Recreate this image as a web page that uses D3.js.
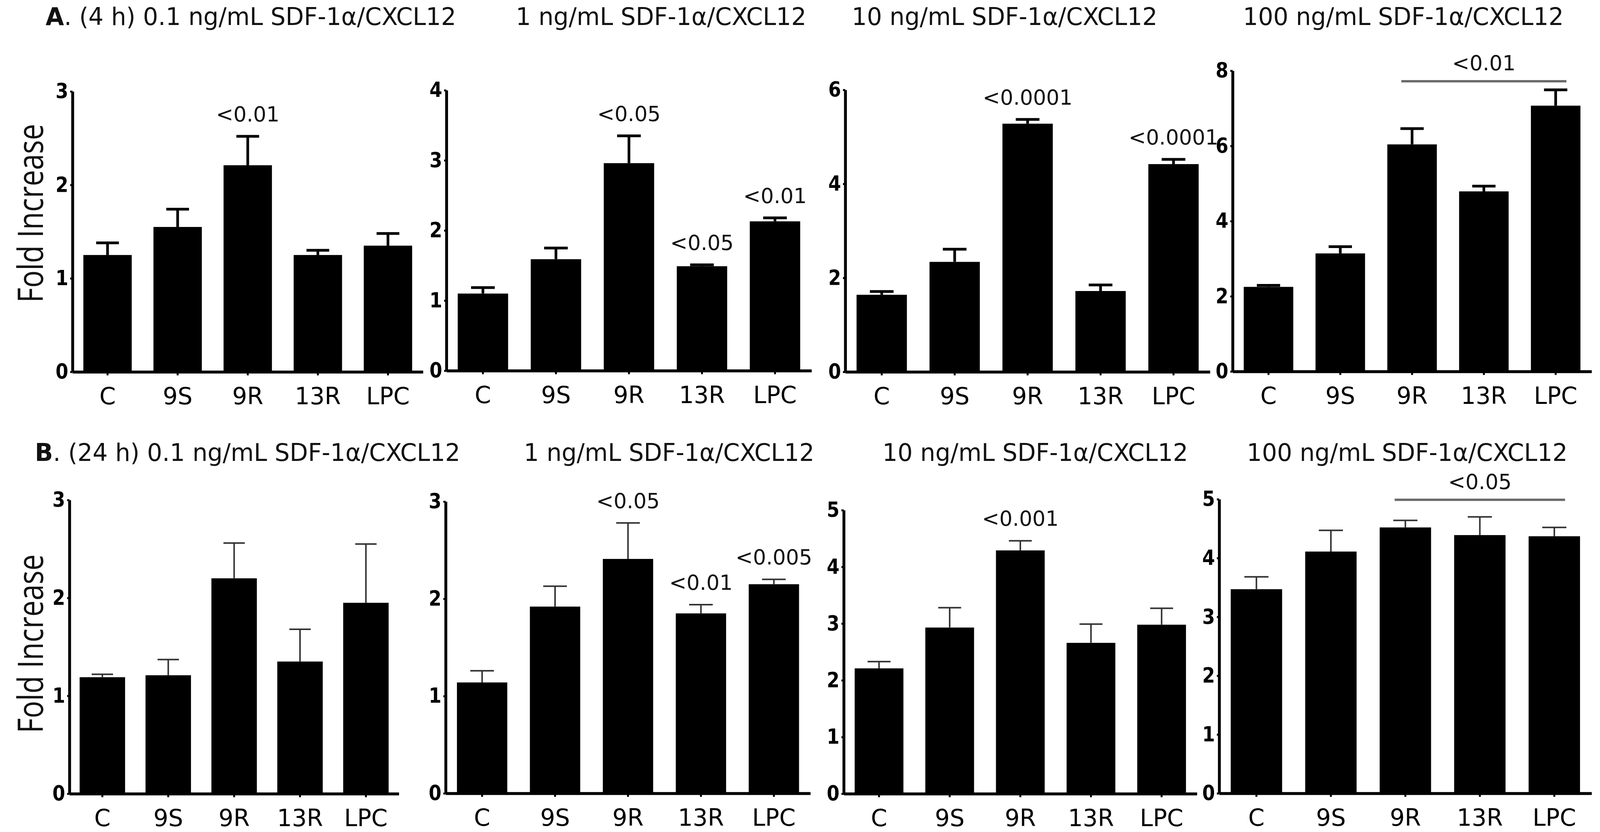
<!DOCTYPE html>
<html>
<head>
<meta charset="utf-8">
<script src="https://cdn.jsdelivr.net/npm/d3@7"></script>
<style>
  html, body { margin: 0; padding: 0; background: #fff; overflow: hidden; }
  svg { display: block; width: 100vw; height: 100vh; }
</style>
</head>
<body>
<svg id="chart"></svg>
<script>
// data
const categories = ['C', '9S', '9R', '13R', 'LPC'];

const panelTitles = [
  '(4 h) 0.1 ng/mL SDF-1\u03B1/CXCL12', '1 ng/mL SDF-1\u03B1/CXCL12',
  '10 ng/mL SDF-1\u03B1/CXCL12', '100 ng/mL SDF-1\u03B1/CXCL12',
  '(24 h) 0.1 ng/mL SDF-1\u03B1/CXCL12', '1 ng/mL SDF-1\u03B1/CXCL12',
  '10 ng/mL SDF-1\u03B1/CXCL12', '100 ng/mL SDF-1\u03B1/CXCL12'
];
const panelLetters = ['A', null, null, null, 'B', null, null, null];

const yMax  = [3, 4, 6, 8, 3, 3, 5, 5];
const yStep = [1, 1, 2, 2, 1, 1, 1, 1];

// mean fold increase per category
const means = [
  [1.25, 1.55, 2.21, 1.25, 1.35],
  [1.10, 1.59, 2.96, 1.49, 2.13],
  [1.64, 2.34, 5.28, 1.72, 4.42],
  [2.25, 3.14, 6.04, 4.79, 7.07],
  [1.19, 1.21, 2.20, 1.35, 1.95],
  [1.14, 1.92, 2.41, 1.85, 2.15],
  [2.21, 2.93, 4.29, 2.66, 2.98],
  [3.47, 4.11, 4.52, 4.39, 4.37]
];
// upper error (SEM)
const errors = [
  [0.13, 0.19, 0.31, 0.05, 0.13],
  [0.085, 0.16, 0.39, 0.02, 0.05],
  [0.07, 0.27, 0.09, 0.13, 0.10],
  [0.04, 0.18, 0.42, 0.14, 0.42],
  [0.03, 0.16, 0.36, 0.33, 0.60],
  [0.12, 0.21, 0.37, 0.09, 0.05],
  [0.12, 0.35, 0.17, 0.33, 0.29],
  [0.21, 0.36, 0.12, 0.31, 0.15]
];
// p-values written over single bars
const pLabels = [
  [null, null, '<0.01', null, null],
  [null, null, '<0.05', '<0.05', '<0.01'],
  [null, null, '<0.0001', null, '<0.0001'],
  [null, null, null, null, null],
  [null, null, null, null, null],
  [null, null, '<0.05', '<0.01', '<0.005'],
  [null, null, '<0.001', null, null],
  [null, null, null, null, null]
];
// p-values over a span of bars
const brackets = [
  null, null, null, { from: '9R', to: 'LPC', level: 7.72, text: '<0.01' },
  null, null, null, { from: '9R', to: 'LPC', level: 4.99, text: '<0.05' }
];

// layout (pixels)
const W = 4172, H = 2130;
const layout = [
  { x0: 189,  x1: 1103, top: 234,  zero: 952,  tx: 119,  ty: 64,   ly: 546 },
  { x0: 1164, x1: 2116, top: 231,  zero: 949,  tx: 1345, ty: 64 },
  { x0: 2204, x1: 3155, top: 230,  zero: 952,  tx: 2221, ty: 64 },
  { x0: 3214, x1: 4150, top: 181,  zero: 951,  tx: 3241, ty: 64 },
  { x0: 181,  x1: 1040, top: 1280, zero: 2032, tx: 91,   ty: 1180, ly: 1648 },
  { x0: 1162, x1: 2113, top: 1284, zero: 2031, tx: 1366, ty: 1180 },
  { x0: 2200, x1: 3121, top: 1306, zero: 2032, tx: 2301, ty: 1180 },
  { x0: 3179, x1: 4150, top: 1278, zero: 2031, tx: 3251, ty: 1180 }
];
const textFont = '"DejaVu Sans", sans-serif';
const tickFont = '"Liberation Sans Narrow", "DejaVu Sans Condensed", "Liberation Sans", sans-serif';

const svg = d3.select('#chart')
  .attr('viewBox', `0 0 ${W} ${H}`)
  .attr('preserveAspectRatio', 'none');
svg.append('rect').attr('width', W).attr('height', H).attr('fill', '#fff');

layout.forEach((L, i) => {
  const rowB = i >= 4;
  const g = svg.append('g');

  const x = d3.scaleBand().domain(categories).range([L.x0, L.x1])
    .paddingInner(0.31).paddingOuter(0.155);
  const y = d3.scaleLinear().domain([0, yMax[i]]).range([L.zero, L.top]);

  // bars
  g.selectAll('rect.bar').data(categories).join('rect')
    .attr('class', 'bar')
    .attr('x', c => x(c))
    .attr('width', x.bandwidth())
    .attr('y', (c, k) => y(means[i][k]))
    .attr('height', (c, k) => L.zero - y(means[i][k]))
    .attr('fill', '#000');

  // upper error bars
  const capW = x.bandwidth() * 0.47;
  const eb = g.append('g')
    .attr('stroke', rowB ? '#333' : '#000')
    .attr('stroke-width', rowB ? 4 : 7)
    .attr('fill', 'none');
  categories.forEach((c, k) => {
    const cx = x(c) + x.bandwidth() / 2;
    const yt = y(means[i][k] + errors[i][k]);
    eb.append('line').attr('x1', cx).attr('x2', cx)
      .attr('y1', y(means[i][k])).attr('y2', yt);
    eb.append('line').attr('x1', cx - capW / 2).attr('x2', cx + capW / 2)
      .attr('y1', yt).attr('y2', yt);
  });

  // axes
  const yAxis = g.append('g').attr('transform', `translate(${L.x0},0)`)
    .call(d3.axisLeft(y).tickValues(d3.range(0, yMax[i] + 0.001, yStep[i]))
      .tickFormat(d3.format('d')).tickSizeInner(6).tickSizeOuter(0).tickPadding(5));
  yAxis.select('.domain').attr('stroke', '#000').attr('stroke-width', 7.5);
  yAxis.selectAll('.tick line').attr('stroke', '#000').attr('stroke-width', 5);
  yAxis.selectAll('.tick text')
    .attr('font-family', tickFont).attr('font-weight', 'bold')
    .attr('font-size', 53).attr('fill', '#000');

  const xAxis = g.append('g').attr('transform', `translate(0,${L.zero})`)
    .call(d3.axisBottom(x).tickSizeInner(9).tickSizeOuter(0).tickPadding(22));
  xAxis.select('.domain').attr('stroke', '#000').attr('stroke-width', 7.5);
  xAxis.selectAll('.tick line').attr('stroke', '#000').attr('stroke-width', 5);
  xAxis.selectAll('.tick text')
    .attr('font-family', textFont).attr('font-size', 61).attr('fill', '#000')
    .attr('dy', null).attr('y', 83).attr('dominant-baseline', 'auto');

  // p-values over bars
  categories.forEach((c, k) => {
    const t = pLabels[i][k];
    if (!t) return;
    g.append('text')
      .attr('x', x(c) + x.bandwidth() / 2)
      .attr('y', y(means[i][k] + errors[i][k]) - 38)
      .attr('text-anchor', 'middle')
      .attr('font-family', textFont).attr('font-size', 54).attr('fill', '#111')
      .text(t);
  });

  // bracket
  const b = brackets[i];
  if (b) {
    const xa = x(b.from) + x.bandwidth() / 2 - 28;
    const xb = x(b.to) + x.bandwidth() / 2 + 28;
    const yl = y(b.level);
    g.append('line').attr('x1', xa).attr('x2', xb).attr('y1', yl).attr('y2', yl)
      .attr('stroke', '#6a6a6a').attr('stroke-width', 6);
    g.append('text')
      .attr('x', (xa + xb) / 2).attr('y', yl - 28)
      .attr('text-anchor', 'middle')
      .attr('font-family', textFont).attr('font-size', 54).attr('fill', '#111')
      .text(b.text);
  }

  // panel title
  const title = g.append('text').attr('x', L.tx).attr('y', L.ty)
    .attr('font-family', textFont).attr('font-size', 62).attr('fill', '#111');
  if (panelLetters[i]) {
    title.append('tspan').attr('font-weight', 'bold').text(panelLetters[i]);
    title.append('tspan').text('. ');
  }
  title.append('tspan').text(panelTitles[i]);

  // y label for first panel of each row
  if (L.ly) {
    g.append('text')
      .attr('transform', `translate(112,${L.ly}) rotate(-90)`)
      .attr('text-anchor', 'middle')
      .attr('font-family', '"Open Sans", sans-serif').attr('font-size', 92)
      .attr('fill', '#111')
      .attr('textLength', 458).attr('lengthAdjust', 'spacingAndGlyphs')
      .text('Fold Increase');
  }
});
</script>
</body>
</html>
